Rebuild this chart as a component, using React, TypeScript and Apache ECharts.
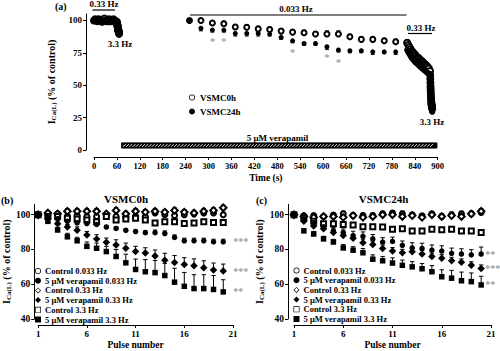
import React, { useEffect, useRef } from 'react';
import * as echarts from 'echarts';

const FONT = '"Liberation Serif","Times New Roman",Times,serif';

// ---------- Panel (a): time course ----------
const timeSlow = [250, 280, 310, 340, 370, 400, 430, 460, 490, 520, 550, 580, 610, 640, 670, 700, 730, 760, 790, 820];
const vsmc0hSlow = [100, 100, 98, 97.5, 95, 94.7, 93.5, 93, 91.8, 91, 90.5, 89.5, 89.5, 89.5, 87.4, 85.4, 85.4, 84.3, 83.6, 82.8];
const vsmc0hSlowErr = [0, 1.5, 2, 2, 2, 2, 2, 2, 2, 2, 2, 2, 2.5, 2.5, 2, 2, 2, 2, 2, 2.5];
const vsmc24hSlow = [100, 94, 92.6, 92.6, 90, 90, 90, 89.5, 87, 84.3, 82.3, 82.3, 79.7, 77.2, 76.6, 76.6, 75.8, 75.8, 75.8, 77.2];
const vsmc24hSlowErr = [0, 2, 1.5, 1.5, 2, 2, 2, 1.5, 1.5, 1.5, 1.5, 1.5, 2, 1.5, 1.5, 1.5, 2, 1.5, 2, 2];
const starTimes = [310, 340, 520, 610, 640];
const starValues = [84.3, 84.3, 75.8, 71.5, 68.1];

const timeStart = [0, 3, 6, 9, 12, 15, 18, 21, 24, 27, 30, 33, 36, 39, 42, 45, 48, 51, 54, 57,
  60, 60.3, 60.6, 60.9, 61.2, 61.5, 61.8, 62.1, 62.4, 62.7, 63, 63.3, 63.6, 63.9, 64.2, 64.5, 64.8, 65.1, 65.4, 65.7];
const vsmc0hStart = [100, 101, 100, 99.5, 101, 100.5, 100, 99, 100.5, 101.5, 100, 99.5, 100, 101, 100.5, 99.5, 100, 101, 100, 99.5,
  99, 98, 97.5, 97, 96.5, 96, 95.5, 95, 94.5, 94, 93.5, 93, 92.5, 92.5, 92, 91.5, 91, 91, 90.5, 90];
const vsmc24hStart = [100, 99.5, 100.5, 99, 100, 99.5, 100.5, 99, 99.5, 100, 99, 100, 99.5, 98.5, 99.5, 100, 99, 99.5, 98.5, 99,
  98, 97, 96.5, 96, 95, 94.5, 94, 93.5, 93, 92.5, 92, 91.5, 91, 90.5, 90.5, 90, 89.5, 89.5, 89, 89];

const timeEnd = [820, 823, 826, 829, 832, 835, 838, 841, 844, 847, 850, 853, 856, 859, 862, 865, 868, 871, 874, 877,
  880, 880.3, 880.6, 880.9, 881.2, 881.5, 881.8, 882.1, 882.4, 882.7, 883, 883.3, 883.6, 883.9, 884.2, 884.5, 884.8, 885.1, 885.4, 885.7];
const vsmc0hEnd = [82.8, 81, 79.5, 78, 76.5, 75.5, 74.5, 73.5, 72.5, 71.5, 71, 70, 69, 68.5, 67.5, 66.5, 66, 65, 64, 63,
  61, 58, 55, 52, 49, 47, 45, 43, 41, 39.5, 38, 37, 36, 35, 34.5, 34, 33.5, 33, 32.5, 32];
const vsmc24hEnd = [77.2, 75.5, 74, 72.5, 71, 70, 69, 68, 67, 66.5, 65.5, 64.5, 64, 63, 62.5, 61.5, 61, 60, 59.5, 58.5,
  57, 54, 51, 48.5, 46, 44, 42, 40, 38.5, 37, 35.5, 34.5, 33.5, 32.5, 32, 31.5, 31, 30.5, 30, 29.5];

const verapamilSpan = [72, 898, 1.5, 5.5];
const timeTicks = [0, 60, 120, 180, 240, 300, 360, 420, 480, 540, 600, 660, 720, 780, 840, 900];
const pctTicksA = [0, 25, 50, 75, 100];

// ---------- Panels (b), (c): pulse protocol ----------
const pulses = [1, 2, 3, 4, 5, 6, 7, 8, 9, 10, 11, 12, 13, 14, 15, 16, 17, 18, 19, 20];
const pulseTicks = [1, 6, 11, 16, 21];
const pctTicksBC = [40, 60, 80, 100];

const seriesNames = ['Control 0.033 Hz', '5 μM verapamil 0.033 Hz', 'Control 0.33 Hz', '5 μM verapamil 0.33 Hz', 'Control 3.3 Hz', '5 μM verapamil 3.3 Hz'];
const seriesSymbols = ['emptyCircle', 'circle', 'emptyDiamond', 'diamond', 'emptyRect', 'rect'];

// thin outline icons for the legend (ring-shaped paths)
const RING_CIRCLE = 'path://M0,-5A5,5 0 1,1 0,5A5,5 0 1,1 0,-5ZM0,-3.9A3.9,3.9 0 1,0 0,3.9A3.9,3.9 0 1,0 0,-3.9Z';
const RING_DIAMOND = 'path://M0,-5L5,0L0,5L-5,0ZM0,-3.5L-3.5,0L0,3.5L3.5,0Z';
const RING_SQUARE = 'path://M-5,-5L5,-5L5,5L-5,5ZM-3.9,-3.9L-3.9,3.9L3.9,3.9L3.9,-3.9Z';
const legendIcons = [RING_CIRCLE, 'circle', RING_DIAMOND, 'diamond', RING_SQUARE, 'rect'];

// VSMC0h
const b_ctrl033 = [100, 99.5, 100.5, 99, 99.5, 99, 99, 100, 99, 98.5, 99, 99, 101, 100, 99.5, 100, 100.5, 101, 101, 100];
const b_ver033 = [100, 99, 97.7, 96.2, 95.3, 94.9, 94.4, 92.9, 92.1, 91, 90.3, 89.7, 89.7, 89.2, 86.9, 85, 85, 85, 84.4, 84.4];
const b_ctrl33 = [100, 101, 100.5, 102, 102, 102, 102, 100.5, 102.5, 100.5, 102, 101.5, 102, 101.5, 102.5, 101.5, 101, 102, 102.5, 104];
const b_ver33 = [100, 98, 94.8, 92.9, 91, 88.4, 86, 84.1, 82.6, 80.7, 78.8, 78, 76.2, 73.8, 72.5, 71.3, 70.6, 69.5, 68.2, 67.6];
const b_ctrl3 = [100, 99, 99, 98, 97.5, 97, 96, 99, 97, 97.5, 98, 97, 95.3, 96, 96, 95, 95.3, 96, 95.5, 95.5];
const b_ver3 = [100, 96.2, 91.2, 87.3, 85, 81.8, 80.7, 78.8, 76, 72.3, 68.5, 67.2, 66.7, 65, 61.2, 58.8, 57.5, 57.5, 57, 55.6];
const b_ctrl033Err = [0, 1, 1, 1.5, 1, 1, 1, 1, 1.5, 1.5, 1, 1, 1, 1, 1, 1, 1, 1, 1.5, 1.5];
const b_ver033Err = [0, 1, 1, 1, 1, 1, 1, 1, 1, 1, 1, 1, 1.5, 1.5, 1.5, 1.5, 1.5, 1.5, 1.5, 1.5];
const b_ctrl33Err = [0, 1, 1, 1.5, 1.5, 1.5, 1.5, 1, 1.5, 1.5, 1.5, 1.5, 1.5, 1.5, 1.5, 1.5, 1.5, 1.5, 1.5, 1.5];
const b_ver33Err = [0, 1, 1.5, 1.5, 2, 2, 2.5, 2.5, 3, 3, 3, 3, 3.5, 4, 4, 4, 4, 4, 4, 4];
const b_ctrl3Err = [0, 1, 1, 1, 1, 1, 1, 1, 1, 1, 1, 1, 1, 1, 1, 1, 1, 1, 1, 1];
const b_ver3Err = [0, 1, 1.5, 2, 2, 2.5, 3, 3, 4, 5, 6, 7, 7, 7, 8, 8, 8, 8, 8, 7];
const b_sig = ['***', '***', '**'];

// VSMC24h
const c_ctrl033 = [100, 99.4, 99.5, 99, 99.8, 100.6, 99.5, 99.5, 99.5, 100.5, 101, 100.6, 100, 99.4, 100.5, 99, 100, 100.5, 100.5, 101.3];
const c_ver033 = [100, 97.6, 95.4, 93, 90.7, 89.8, 88, 87.6, 86.1, 84.3, 84.6, 82.4, 80.9, 80.6, 79.6, 79.1, 77.8, 77.4, 76.9, 77.4];
const c_ctrl33 = [100, 99, 98.5, 99, 99, 98.5, 99.5, 98.5, 99, 100, 100, 99, 99.5, 98.5, 100, 99, 99.5, 99, 100.5, 102];
const c_ver33 = [100, 96.3, 93.5, 92, 89.8, 88, 86.5, 83.9, 82.8, 80.6, 79.1, 78.1, 78.7, 77.4, 75.9, 75, 73.5, 72.6, 70.9, 69.1];
const c_ctrl3 = [100, 98.1, 96.3, 94.8, 94.8, 94.4, 94.1, 93.1, 93.1, 93, 91.7, 92, 90.7, 90.7, 91.7, 91.3, 91.7, 90.7, 90.7, 89.8];
const c_ver3 = [100, 90.7, 88.9, 86.1, 84.3, 80.9, 79.6, 78.1, 74.4, 73.5, 72.2, 70.9, 70, 68.9, 67.2, 64.3, 63.5, 62, 61.5, 59.6];
const c_ctrl033Err = [0, 1, 1, 1, 1, 1.5, 1.5, 1.5, 1.5, 1.5, 1.5, 1.5, 1, 1, 1, 1.5, 1.5, 1.5, 1.5, 1.5];
const c_ver033Err = [0, 1, 1.5, 1.5, 2, 2, 2.5, 2.5, 2.5, 2.5, 2.5, 2.5, 3, 3, 3, 3, 3, 3, 3, 4];
const c_ctrl33Err = [0, 1, 1, 1, 1, 1.5, 1.5, 1.5, 1.5, 1.5, 1.5, 1.5, 1.5, 1.5, 1.5, 1.5, 1.5, 1.5, 1.5, 1.5];
const c_ver33Err = [0, 1, 1.5, 1.5, 2, 2, 2, 2, 2, 2, 2, 2, 2, 2, 2, 2, 2, 2, 2, 2];
const c_ctrl3Err = [0, 1, 1, 1, 1, 1, 1, 1, 1, 1, 1, 1, 1, 1, 1, 1, 1, 1, 1, 1];
const c_ver3Err = [0, 1, 1.5, 1.5, 1.5, 2, 2, 2.5, 2.5, 2.5, 3, 3, 3, 3, 3.5, 4, 4.5, 5, 5, 5];
const c_sig = ['**', '***', '**'];

const txt = (size: number) => ({ fontFamily: FONT, fontWeight: 'bold' as const, color: '#000', fontSize: size });

function zip(xs: number[], ys: number[]) {
  return xs.map((x, i) => [x, ys[i]]);
}

function errSeries(g: number, xs: number[], ys: number[], errs: number[], dir: number, cap: number) {
  return {
    type: 'custom',
    xAxisIndex: g,
    yAxisIndex: g,
    silent: true,
    z: 1,
    encode: { x: 0, y: 1 },
    data: xs.map((x, i) => [x, ys[i], errs[i]]),
    renderItem: (_p: any, api: any) => {
      const x = api.value(0), y = api.value(1), e = api.value(2);
      if (!e) return { type: 'group', children: [] };
      const p0 = api.coord([x, y]);
      const p1 = api.coord([x, y + dir * e]);
      return {
        type: 'group',
        children: [
          { type: 'line', shape: { x1: p0[0], y1: p0[1], x2: p1[0], y2: p1[1] }, style: { stroke: '#000', lineWidth: 1 } },
          { type: 'line', shape: { x1: p1[0] - cap, y1: p1[1], x2: p1[0] + cap, y2: p1[1] }, style: { stroke: '#000', lineWidth: 1 } },
        ],
      };
    },
  };
}

function scatter(g: number, name: string, symbol: string, size: number, data: number[][], z = 3) {
  return {
    type: 'scatter',
    name,
    xAxisIndex: g,
    yAxisIndex: g,
    symbol,
    symbolSize: size,
    z,
    itemStyle: { color: '#000', borderColor: '#000', borderWidth: symbol.startsWith('empty') ? 0.8 : 0, opacity: 1 },
    data,
  };
}

function sigSeries(g: number, lastVals: number[], labels: string[], dx: number) {
  return {
    type: 'scatter',
    xAxisIndex: g,
    yAxisIndex: g,
    symbolSize: 0,
    silent: true,
    z: 5,
    data: lastVals.map((v, i) => ({ value: [20, v], label: { formatter: labels[i] } })),
    label: { show: true, position: 'right', distance: dx, color: '#808080', fontFamily: FONT, fontWeight: 'bold', fontSize: 10 },
  };
}

function panelSeries(g: number, sets: number[][], errs: number[][], sig: string[], dx: number) {
  const out: any[] = [];
  const sizes = [5, 5.5, 6.5, 7.5, 5, 5.5];
  sets.forEach((vals, i) => {
    out.push(errSeries(g, pulses, vals, errs[i], 1, 2.2));
    out.push(scatter(g, seriesNames[i], seriesSymbols[i], sizes[i], zip(pulses, vals), 3 + (i % 2)));
  });
  out.push(sigSeries(g, [sets[1][19], sets[3][19], sets[5][19]], sig, dx));
  return out;
}

function axisBase(size: number) {
  return {
    type: 'value',
    splitLine: { show: false },
    axisLine: { show: true, onZero: false, lineStyle: { color: '#000', width: 1 } },
    axisTick: { show: true, length: 3, lineStyle: { color: '#000', width: 1 } },
    axisLabel: { ...txt(size), margin: 4 },
  };
}

const yName = '{m|I}{s|Ca(L)}{m| (% of control)}';
const yNameStyle = {
  ...txt(10),
  rich: {
    m: { ...txt(10) },
    s: { ...txt(7), padding: [0, 0, -5, 0] },
  },
};

function legendData(names: string[], icons: string[]) {
  return names.map((n, i) => ({
    name: n,
    icon: icons[i],
    itemStyle: { color: '#000', borderWidth: 0 },
  }));
}

export default function App() {
  const ref = useRef<HTMLDivElement>(null);
  useEffect(() => {
    if (!ref.current) return;
    const chart = echarts.init(ref.current, undefined, { renderer: 'svg' });

    const series: any[] = [
      // panel a
      errSeries(0, timeSlow, vsmc0hSlow, vsmc0hSlowErr, 1, 2),
      errSeries(0, timeSlow, vsmc24hSlow, vsmc24hSlowErr, -1, 2),
      scatter(0, 'VSMC0h', 'emptyCircle', 5, zip(timeSlow, vsmc0hSlow), 3),
      scatter(0, 'VSMC24h', 'circle', 5, zip(timeSlow, vsmc24hSlow), 4),
      scatter(0, 'VSMC0h start', 'emptyCircle', 6, zip(timeStart, vsmc0hStart), 3),
      scatter(0, 'VSMC24h start', 'circle', 6, zip(timeStart, vsmc24hStart), 4),
      scatter(0, 'VSMC0h end', 'emptyCircle', 6, zip(timeEnd, vsmc0hEnd), 3),
      scatter(0, 'VSMC24h end', 'circle', 6, zip(timeEnd, vsmc24hEnd), 4),
      {
        type: 'scatter',
        xAxisIndex: 0,
        yAxisIndex: 0,
        symbolSize: 0,
        silent: true,
        z: 5,
        data: zip(starTimes, starValues),
        label: { show: true, position: 'inside', formatter: '*', color: '#888', fontFamily: FONT, fontWeight: 'bold', fontSize: 11 },
      },
      {
        type: 'custom',
        xAxisIndex: 0,
        yAxisIndex: 0,
        silent: true,
        z: 2,
        encode: { x: [0, 1], y: [2, 3] },
        data: [verapamilSpan],
        renderItem: (_p: any, api: any) => {
          const a = api.coord([api.value(0), api.value(3)]);
          const b = api.coord([api.value(1), api.value(2)]);
          const x0 = a[0], y0 = a[1], x1 = b[0], y1 = b[1];
          const h = y1 - y0;
          const children: any[] = [
            { type: 'rect', shape: { x: x0, y: y0, width: x1 - x0, height: h }, style: { fill: '#000', stroke: '#000', lineWidth: 1 } },
          ];
          for (let x = x0 + 1.5; x < x1 - h; x += 3.2) {
            children.push({ type: 'line', shape: { x1: x, y1: y1 - 1.2, x2: x + h - 2.4, y2: y0 + 1.2 }, style: { stroke: '#fff', lineWidth: 0.9 } });
          }
          return { type: 'group', children };
        },
      },
      ...panelSeries(1, [b_ctrl033, b_ver033, b_ctrl33, b_ver33, b_ctrl3, b_ver3],
        [b_ctrl033Err, b_ver033Err, b_ctrl33Err, b_ver33Err, b_ctrl3Err, b_ver3Err], b_sig, 10),
      ...panelSeries(2, [c_ctrl033, c_ver033, c_ctrl33, c_ver33, c_ctrl3, c_ver3],
        [c_ctrl033Err, c_ver033Err, c_ctrl33Err, c_ver33Err, c_ctrl3Err, c_ver3Err], c_sig, 4),
    ];

    const legendCommon = {
      orient: 'vertical',
      itemWidth: 6,
      itemHeight: 6,
      selectedMode: false,
      padding: 0,
      textStyle: { ...txt(8.5), padding: [0, 0, 0, -1] },
    };

    chart.setOption({
      animation: false,
      backgroundColor: '#fff',
      grid: [
        { left: 94, top: 14, width: 343.7, height: 136 },
        { left: 37, top: 204.3, width: 196, height: 117.7 },
        { left: 294, top: 204.3, width: 197, height: 117.7 },
      ],
      xAxis: [
        {
          ...axisBase(8.5), gridIndex: 0, min: 0, max: 900, offset: 7,
          axisTick: { show: true, length: 3, lineStyle: { color: '#000' }, customValues: timeTicks },
          axisLabel: { ...txt(8.5), margin: 4, customValues: timeTicks },
          name: 'Time (s)', nameLocation: 'middle', nameGap: 16, nameTextStyle: txt(9.5),
        },
        {
          ...axisBase(9), gridIndex: 1, min: 1, max: 21, offset: 6,
          axisTick: { show: true, length: 3, lineStyle: { color: '#000' }, customValues: pulseTicks },
          axisLabel: { ...txt(9), margin: 4, customValues: pulseTicks },
          name: 'Pulse number', nameLocation: 'middle', nameGap: 15, nameTextStyle: txt(9.5),
        },
        {
          ...axisBase(9), gridIndex: 2, min: 1, max: 21, offset: 6,
          axisTick: { show: true, length: 3, lineStyle: { color: '#000' }, customValues: pulseTicks },
          axisLabel: { ...txt(9), margin: 4, customValues: pulseTicks },
          name: 'Pulse number', nameLocation: 'middle', nameGap: 15, nameTextStyle: txt(9.5),
        },
      ],
      yAxis: [
        {
          ...axisBase(9), gridIndex: 0, min: 0, max: 105, offset: 8,
          axisTick: { show: true, length: 3, lineStyle: { color: '#000' }, customValues: pctTicksA },
          axisLabel: { ...txt(9), margin: 4, customValues: pctTicksA },
          name: yName, nameLocation: 'middle', nameGap: 16, nameTextStyle: yNameStyle,
        },
        {
          ...axisBase(9.5), gridIndex: 1, min: 40, max: 106, offset: 4,
          axisTick: { show: true, length: 3, lineStyle: { color: '#000' }, customValues: pctTicksBC },
          axisLabel: { ...txt(9.5), margin: 4, customValues: pctTicksBC },
          name: yName, nameLocation: 'middle', nameGap: 20, nameTextStyle: yNameStyle,
        },
        {
          ...axisBase(9.5), gridIndex: 2, min: 40, max: 106, offset: 6,
          axisTick: { show: true, length: 3, lineStyle: { color: '#000' }, customValues: pctTicksBC },
          axisLabel: { ...txt(9.5), margin: 4, customValues: pctTicksBC },
          name: yName, nameLocation: 'middle', nameGap: 20, nameTextStyle: yNameStyle,
        },
      ],
      legend: [
        { ...legendCommon, data: legendData(['VSMC0h', 'VSMC24h'], [RING_CIRCLE, 'circle']), left: 189, top: 93, itemGap: 5, textStyle: { ...txt(9) } },
        { ...legendCommon, data: legendData(seriesNames, legendIcons), left: 35, top: 266.5, itemGap: 0.7 },
        { ...legendCommon, data: legendData(seriesNames, legendIcons), left: 293.5, top: 266, itemGap: 0.7 },
      ],
      graphic: [
        { type: 'text', left: 55, top: 1, style: { text: '(a)', font: `bold 10px ${FONT}`, fill: '#000' } },
        { type: 'text', left: 1, top: 195, style: { text: '(b)', font: `bold 10px ${FONT}`, fill: '#000' } },
        { type: 'text', left: 256, top: 195, style: { text: '(c)', font: `bold 10px ${FONT}`, fill: '#000' } },
        { type: 'text', x: 126, y: 199, style: { text: 'VSMC0h', font: `bold 11px ${FONT}`, fill: '#000', align: 'center', verticalAlign: 'middle' } },
        { type: 'text', x: 383.5, y: 199, style: { text: 'VSMC24h', font: `bold 11px ${FONT}`, fill: '#000', align: 'center', verticalAlign: 'middle' } },
        { type: 'text', x: 104, y: 4, style: { text: '0.33 Hz', font: `bold 9px ${FONT}`, fill: '#000', align: 'center', verticalAlign: 'middle' } },
        { type: 'line', shape: { x1: 92.5, y1: 10, x2: 115, y2: 10 }, style: { stroke: '#000', lineWidth: 1.2 } },
        { type: 'text', x: 120, y: 43.5, style: { text: '3.3 Hz', font: `bold 9px ${FONT}`, fill: '#000', align: 'center', verticalAlign: 'middle' } },
        { type: 'text', x: 296, y: 8.5, style: { text: '0.033 Hz', font: `bold 9px ${FONT}`, fill: '#000', align: 'center', verticalAlign: 'middle' } },
        { type: 'line', shape: { x1: 190, y1: 15, x2: 406.5, y2: 15 }, style: { stroke: '#000', lineWidth: 1.2 } },
        { type: 'text', x: 421, y: 27.5, style: { text: '0.33 Hz', font: `bold 9px ${FONT}`, fill: '#000', align: 'center', verticalAlign: 'middle' } },
        { type: 'line', shape: { x1: 408, y1: 33.5, x2: 432, y2: 33.5 }, style: { stroke: '#000', lineWidth: 1.2 } },
        { type: 'text', x: 432, y: 122, style: { text: '3.3 Hz', font: `bold 9px ${FONT}`, fill: '#000', align: 'center', verticalAlign: 'middle' } },
        { type: 'text', x: 277.5, y: 137.5, style: { text: '5 μM verapamil', font: `bold 9px ${FONT}`, fill: '#000', align: 'center', verticalAlign: 'middle' } },
      ],
      series,
    });

    return () => chart.dispose();
  }, []);

  return <div ref={ref} style={{ width: 500, height: 351, position: 'absolute', left: 0, top: 0 }} />;
}
